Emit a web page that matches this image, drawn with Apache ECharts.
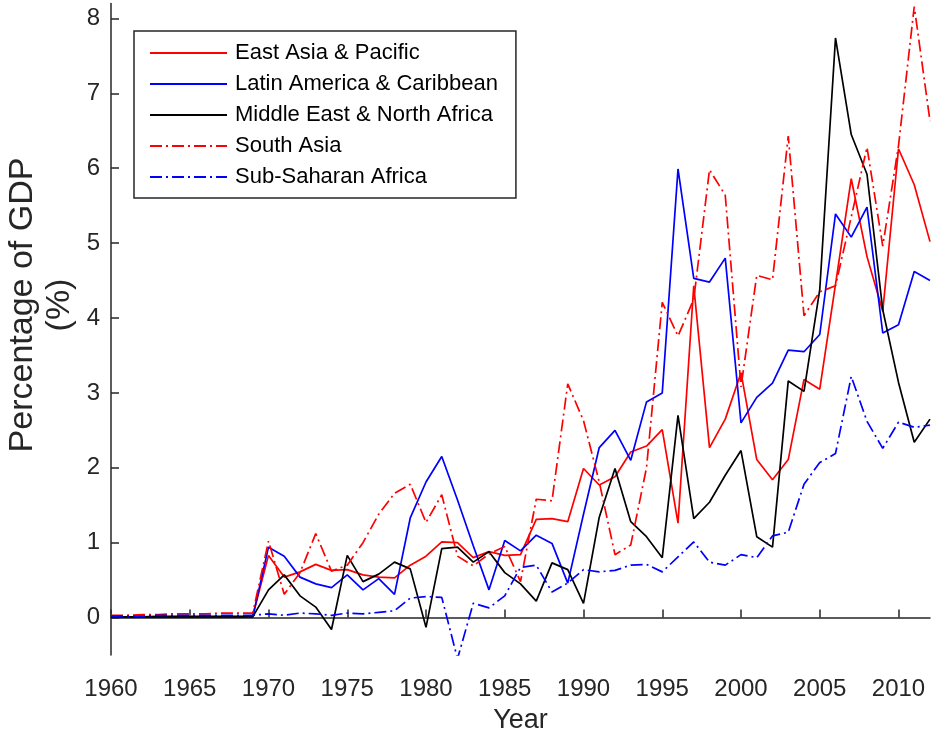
<!DOCTYPE html>
<html><head><meta charset="utf-8">
<script src="https://cdn.jsdelivr.net/npm/echarts@6/dist/echarts.min.js"></script>
<style>html,body{margin:0;padding:0;background:#fff}#c{width:933px;height:737px}</style>
</head><body><div id="c"></div>
<script>
const years = [1960,1961,1962,1963,1964,1965,1966,1967,1968,1969,
  1970,1971,1972,1973,1974,1975,1976,1977,1978,1979,
  1980,1981,1982,1983,1984,1985,1986,1987,1988,1989,
  1990,1991,1992,1993,1994,1995,1996,1997,1998,1999,
  2000,2001,2002,2003,2004,2005,2006,2007,2008,2009,
  2010,2011,2012];
const seriesNames = ['East Asia & Pacific','Latin America & Caribbean','Middle East & North Africa','South Asia','Sub-Saharan Africa'];
const eastAsia = [0.01,0.01,0.01,0.02,0.02,0.02,0.02,0.02,0.02,0.02,
  0.83,0.54,0.61,0.71,0.63,0.64,0.57,0.54,0.53,0.70,
  0.82,1.01,1.00,0.80,0.88,0.83,0.84,1.31,1.32,1.28,
  1.99,1.77,1.88,2.21,2.29,2.51,1.26,4.43,2.27,2.65,
  3.27,2.11,1.84,2.11,3.18,3.05,4.45,5.86,4.82,4.09,
  6.26,5.78,5.02];
const latinAmerica = [0.01,0.01,0.01,0.01,0.01,0.01,0.01,0.01,0.01,0.01,
  0.94,0.82,0.54,0.45,0.40,0.57,0.37,0.52,0.31,1.33,
  1.81,2.15,1.57,0.96,0.37,1.03,0.89,1.10,0.99,0.46,
  1.38,2.27,2.50,2.10,2.88,3.00,5.99,4.53,4.48,4.80,
  2.60,2.94,3.13,3.57,3.55,3.78,5.39,5.08,5.48,3.80,
  3.91,4.62,4.50];
const middleEast = [0.01,0.01,0.01,0.01,0.01,0.01,0.01,0.01,0.01,0.01,
  0.37,0.57,0.29,0.14,-0.16,0.83,0.48,0.58,0.74,0.65,
  -0.13,0.92,0.94,0.74,0.88,0.60,0.45,0.22,0.73,0.64,
  0.19,1.34,1.99,1.28,1.08,0.80,2.70,1.32,1.54,1.90,
  2.23,1.08,0.94,3.16,3.02,4.38,7.74,6.45,5.92,4.11,
  3.14,2.34,2.65];
const southAsia = [0.03,0.03,0.04,0.04,0.05,0.05,0.05,0.06,0.06,0.06,
  1.02,0.31,0.60,1.12,0.62,0.70,1.00,1.38,1.66,1.78,
  1.27,1.64,0.82,0.69,0.85,0.95,0.48,1.58,1.56,3.12,
  2.63,1.81,0.84,0.97,2.00,4.21,3.76,4.25,5.98,5.64,
  3.08,4.57,4.51,6.43,4.03,4.35,4.43,5.35,6.28,4.96,
  6.30,8.16,6.63];
const subSaharan = [0.02,0.02,0.02,0.03,0.03,0.03,0.03,0.03,0.03,0.03,
  0.05,0.03,0.06,0.05,0.03,0.06,0.05,0.07,0.09,0.26,
  0.28,0.27,-0.55,0.19,0.13,0.29,0.67,0.70,0.34,0.46,
  0.64,0.61,0.63,0.70,0.71,0.61,0.81,1.01,0.74,0.70,
  0.84,0.80,1.09,1.14,1.78,2.07,2.19,3.22,2.62,2.26,
  2.61,2.54,2.57];
const yTickValues = [0,1,2,3,4,5,6,7,8];

const F = '"Liberation Sans", Arial, Helvetica, sans-serif';
const AX = '#262626';
const dashDot = [12,4,2,4];
const styles = [
  {color:'#ff0000', type:'solid'},
  {color:'#0000ff', type:'solid'},
  {color:'#000000', type:'solid'},
  {color:'#ff0000', type:dashDot},
  {color:'#0000ff', type:dashDot}
];
const values = [eastAsia, latinAmerica, middleEast, southAsia, subSaharan];

const chart = echarts.init(document.getElementById('c'), null, {renderer:'canvas'});
chart.setOption({
  animation:false,
  backgroundColor:'#fff',
  grid:{left:111, right:3, top:3.5, bottom:82, containLabel:false, outerBoundsMode:'none'},
  legend:{
    orient:'vertical', left:134, top:31,
    padding:[11,18,10,15], itemWidth:77, itemHeight:22, itemGap:9,
    borderColor:AX, borderWidth:1.5, backgroundColor:'#fff',
    itemStyle:{opacity:0},
    textStyle:{fontFamily:F, fontSize:22, color:'#000', lineHeight:22, padding:[0,0,0,3]},
    data:seriesNames
  },
  xAxis:{
    type:'value', min:1960, max:2012, interval:5,
    axisLine:{show:true, lineStyle:{color:AX, width:1.5}},
    axisTick:{show:true, inside:true, length:8, lineStyle:{color:AX, width:1.5}},
    axisLabel:{margin:22, fontSize:24, color:AX, fontFamily:F, formatter:(v)=>String(v)},
    splitLine:{show:false},
    name:'Year', nameLocation:'middle', nameGap:52,
    nameTextStyle:{fontSize:27, color:AX, fontFamily:F}
  },
  yAxis:{
    type:'value', min:-0.5, max:8.2,
    axisLine:{show:true, lineStyle:{color:AX, width:1.5}},
    axisTick:{show:true, inside:true, length:8, customValues:yTickValues, lineStyle:{color:AX, width:1.5}},
    axisLabel:{margin:11, fontSize:24, color:AX, fontFamily:F, customValues:yTickValues},
    splitLine:{show:false}
  },
  graphic:[{
    type:'text', x:41, y:305, rotation:Math.PI/2,
    style:{text:'Percentage of GDP\n(%)', fill:AX, fontSize:34, fontFamily:F,
      align:'center', verticalAlign:'middle', lineHeight:37}
  }],
  series: seriesNames.map((n,k)=>({
    name:n, type:'line', symbol:'none', clip:true,
    data: years.map((y,i)=>[y, values[k][i]]),
    lineStyle:{color:styles[k].color, width:1.7, type:styles[k].type},
    itemStyle:{color:styles[k].color},
    emphasis:{disabled:true}
  }))
});
</script></body></html>
